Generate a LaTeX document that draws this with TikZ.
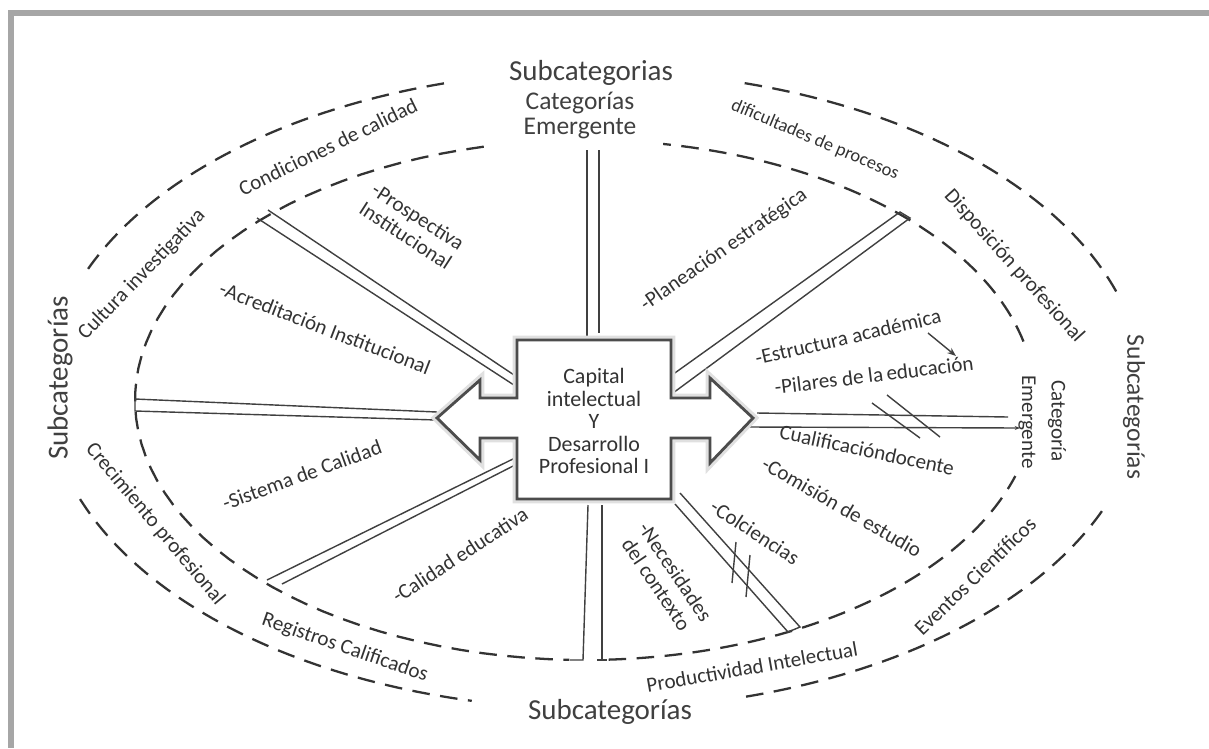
\documentclass[tikz,border=0pt]{standalone}
\usepackage{fontspec}
\setmainfont{Carlito}
\usetikzlibrary{arrows.meta}

\tikzset{
  dashring/.style={black!80, line width=1.3pt, dash pattern=on 10pt off 6pt},
  spoke/.style={black!75, line width=0.8pt},
  lbl/.style={text=black!80, inner sep=0pt, align=center, font=\fontsize{12}{13}\selectfont},
  headtxt/.style={text=black!75, inner sep=0pt, font=\fontsize{16.5}{18}\selectfont},
}

\begin{document}
\begin{tikzpicture}[x=0.02cm, y=-0.02cm]
\useasboundingbox (0,0) rectangle (1209,748);
\fill[white] (0,0) rectangle (1209,748);
% marco gris
\fill[black!35] (8,10) rectangle (1209,16);
\fill[black!35] (8,10) rectangle (14,748);

% elipse exterior
\foreach \ta/\tb in {106/158, 18/75, 200/257, 286/338}
  \draw[dashring] plot[domain=\ta:\tb, samples=50, variable=\t] ({595+548*cos(\t)},{390-319*sin(\t)});
% elipse interior
\foreach \ta/\tb in {103/268, 273/343, 13/80}
  \draw[dashring] plot[domain=\ta:\tb, samples=60, variable=\t] ({585+450*cos(\t)},{400-260*sin(\t)});

% rayos dobles
\draw[spoke] (587,150) -- (587,340);
\draw[spoke] (599,150) -- (599,333);
\draw[spoke] (588,505) -- (583,660) -- (570,660);
\draw[spoke] (602,505) -- (602,660);
\draw[spoke] (597,660) -- (607,660);
\draw[spoke] (437,412) -- (135,399) -- (135,411) -- (437,420);
\draw[spoke] (757,413) -- (1008,417);
\draw[spoke, -{Stealth[length=3pt]}] (750,427) -- (1020,428);
\draw[spoke] (872,403) -- (920,438);
\draw[spoke] (887,395) -- (940,437);
\draw[spoke] (517,387) -- (257,218);
\draw[spoke] (517,377) -- (268,210);
\draw[spoke] (517,457) -- (267,580);
\draw[spoke] (517,464) -- (282,584);
\draw[spoke] (672,375) -- (900,212) -- (910,218) -- (673,393);
\draw[spoke] (680,493) -- (800,627) -- (788,632) -- (675,504);
\draw[spoke] (736,542) -- (732,583);
\draw[spoke] (750,555) -- (746,597);

% caja central con flechas
\foreach \w/\c in {5pt/black!12, 1.6pt/black!70}
  \draw[line width=\w, draw=\c, fill=white, line join=miter]
    (517,340) -- (671,340) -- (671,398) -- (710,398) -- (710,378) -- (753,418)
    -- (710,463) -- (710,438) -- (671,438) -- (671,499) -- (517,499) -- (517,438)
    -- (480,438) -- (480,460) -- (437,418) -- (480,380) -- (480,398) -- (517,398) -- cycle;
\node[text=black!80, align=center, font=\fontsize{12.5}{12.8}\selectfont] (core) at (594,421)
  {Capital\\intelectual\\Y\\Desarrollo\\Profesional I};

% titulos
\node[headtxt] (subtop) at (591,73) {Subcategorias};
\node[headtxt, font=\fontsize{14.5}{16}\selectfont] (cattop) at (580,103) {Categorías};
\node[headtxt, font=\fontsize{14.5}{16}\selectfont] (emetop) at (580,129) {Emergente};
\node[headtxt] (subbot) at (610,712) {Subcategorías};
\node[headtxt, rotate=90] (subleft) at (60,378) {Subcategorías};
\node[headtxt, font=\fontsize{14.5}{16}\selectfont, rotate=-90] (subright) at (1134,407) {Subcategorías};

% etiquetas
\foreach \px/\py/\ang/\txt [count=\i] in {
  328/147/26/{Condiciones de calidad},
  142/275/46/{Cultura investigativa},
  412/226/-33/{-Prospectiva\\Institucional},
  325/328/-21/{-Acreditación Institucional},
  302/475/20/{-Sistema de Calidad},
  155/524/-50/{Crecimiento profesional},
  460/555/33/{-Calidad educativa},
  345/648/-19/{Registros Calificados},
  666/578/-56/{-Necesidades\\del contexto},
  755/532/-33/{-Colciencias},
  752/667/10/{Productividad Intelectual},
  842/507/-30/{-Comisión de estudio},
  975/576/44/{Eventos Científicos},
  867/450/-12/{Cualificacióndocente},
  874/375/7/{-Pilares de la\,educación},
  848/337/13/{-Estructura académica},
  724/250/35/{-Planeación estratégica},
  1014/266/-48/{Disposición profesional},
  1057/421/-90/{Categoría},
  1027/422/-90/{Emergente}}
  \node[lbl, rotate=\ang] (lab\i) at (\px,\py) {\txt};
\node[lbl, font=\fontsize{10.5}{12}\selectfont, rotate=-23] (difi) at (815,140) {dificultades de procesos};

% flecha estructura -> pilares
\coordinate (estr) at (928,333);
\coordinate (pil) at (956,356);
\draw[spoke, -{Stealth[length=5pt]}] (estr) -- (pil);

\end{tikzpicture}
\end{document}
